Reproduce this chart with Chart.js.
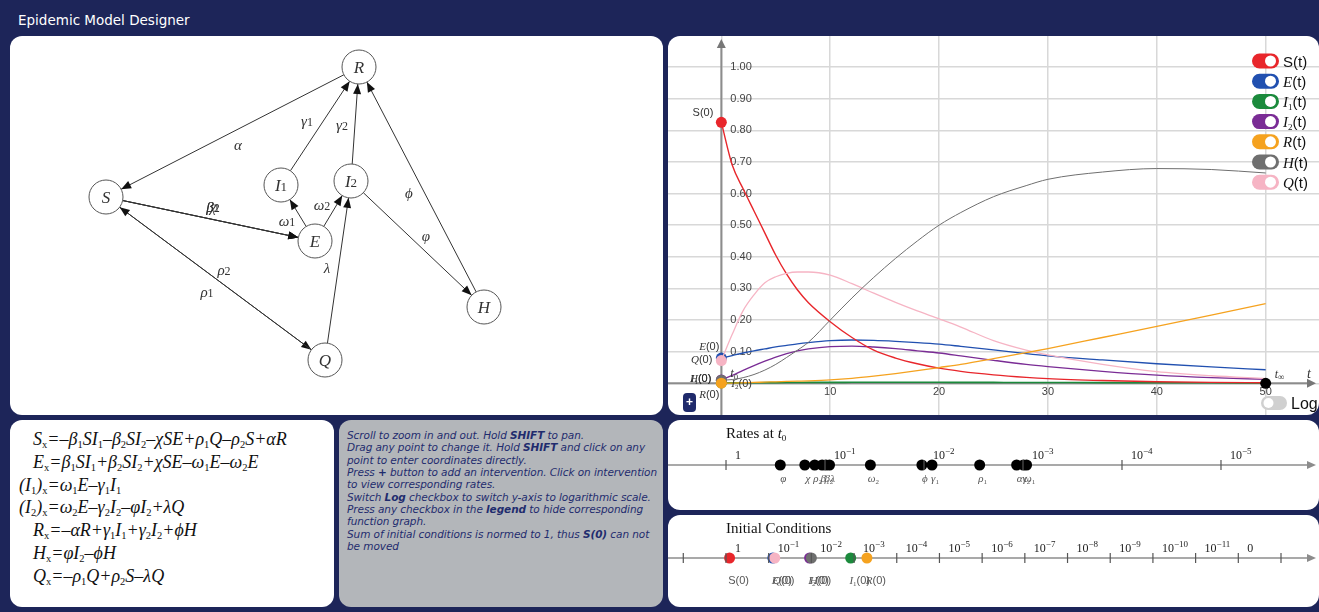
<!DOCTYPE html>
<html>
<head>
<meta charset="utf-8">
<title>Epidemic Model Designer</title>
<script src="https://cdn.jsdelivr.net/npm/chart.js@4.4.1/dist/chart.umd.min.js"></script>
<style>
  html, body { margin: 0; padding: 0; }
  body {
    width: 1319px; height: 612px; position: relative; overflow: hidden;
    background: #1d2559; font-family: "DejaVu Sans", sans-serif;
  }
  .title { position: absolute; left: 18px; top: 12px; color: #fff; font-size: 13.5px; }
  .panel { position: absolute; background: #fff; border-radius: 12px; overflow: hidden; }
  .panel canvas { position: absolute; left: 0; top: 0; }
  #eqPanel { left: 10px; top: 420px; width: 324px; height: 187px; }
  #helpPanel { left: 339px; top: 420px; width: 324px; height: 187px; background: #b3b6ba; }
  .eq {
    position: absolute; left: 0; top: 8px;
    font-family: "Liberation Serif", "DejaVu Serif", serif; font-style: italic;
    font-size: 18px; line-height: 22.8px; color: #111; white-space: nowrap;
  }
  .eq div { margin-left: 23px; height: 22.8px; }
  .eq div.paren { margin-left: 9px; }
  .eq sub { font-size: 10.5px; vertical-align: -3px; line-height: 0; font-style: normal; }
  .help {
    position: absolute; left: 8px; top: 9px; white-space: nowrap;
    font-style: italic; font-size: 10.5px; line-height: 12.35px; color: #1f2c6e;
    letter-spacing: -0.07px;
  }
  .help b { font-weight: bold; }
</style>
</head>
<body>
<div class="title">Epidemic Model Designer</div>

<div class="panel" style="left:10px;top:36px;width:653px;height:379px;">
  <canvas id="graphCanvas" width="653" height="379"></canvas>
</div>
<div class="panel" style="left:668px;top:36px;width:651px;height:379px;">
  <canvas id="plotCanvas" width="651" height="379"></canvas>
</div>

<div class="panel" id="eqPanel">
  <div class="eq">
    <div>S<sub>x</sub>=–β<sub>1</sub>SI<sub>1</sub>–β<sub>2</sub>SI<sub>2</sub>–χSE+ρ<sub>1</sub>Q–ρ<sub>2</sub>S+αR</div>
    <div>E<sub>x</sub>=β<sub>1</sub>SI<sub>1</sub>+β<sub>2</sub>SI<sub>2</sub>+χSE–ω<sub>1</sub>E–ω<sub>2</sub>E</div>
    <div class="paren">(I<sub>1</sub>)<sub>x</sub>=ω<sub>1</sub>E–γ<sub>1</sub>I<sub>1</sub></div>
    <div class="paren">(I<sub>2</sub>)<sub>x</sub>=ω<sub>2</sub>E–γ<sub>2</sub>I<sub>2</sub>–φI<sub>2</sub>+λQ</div>
    <div>R<sub>x</sub>=–αR+γ<sub>1</sub>I<sub>1</sub>+γ<sub>2</sub>I<sub>2</sub>+ϕH</div>
    <div>H<sub>x</sub>=φI<sub>2</sub>–ϕH</div>
    <div>Q<sub>x</sub>=–ρ<sub>1</sub>Q+ρ<sub>2</sub>S–λQ</div>
  </div>
</div>

<div class="panel" id="helpPanel">
  <div class="help">Scroll to zoom in and out. Hold <b>SHIFT</b> to pan.<br>Drag any point to change it. Hold <b>SHIFT</b> and click on any<br>point to enter coordinates directly.<br>Press <b>+</b> button to add an intervention. Click on intervention<br>to view corresponding rates.<br>Switch <b>Log</b> checkbox to switch y-axis to logarithmic scale.<br>Press any checkbox in the <b>legend</b> to hide corresponding<br>function graph.<br>Sum of initial conditions is normed to 1, thus <b>S(0)</b> can not<br>be moved</div>
</div>

<div class="panel" style="left:668px;top:420px;width:651px;height:90px;">
  <canvas id="ratesCanvas" width="651" height="90"></canvas>
</div>
<div class="panel" style="left:668px;top:515px;width:651px;height:92px;">
  <canvas id="icCanvas" width="651" height="92"></canvas>
</div>

<script>
// ---------- compartment trajectories ----------
const tValues = [0, 1, 2, 3, 4, 5, 6, 7, 8, 10, 12, 14, 16, 18, 20, 22, 25, 28, 30, 35, 40, 45, 50];
const sValues = [0.825, 0.69, 0.615, 0.545, 0.475, 0.405, 0.345, 0.295, 0.255, 0.195, 0.145, 0.105, 0.08, 0.062, 0.048, 0.038, 0.027, 0.019, 0.015, 0.009, 0.005, 0.003, 0.002];
const eValues = [0.08, 0.088, 0.096, 0.103, 0.109, 0.115, 0.12, 0.125, 0.129, 0.135, 0.137, 0.136, 0.133, 0.129, 0.124, 0.117, 0.106, 0.094, 0.087, 0.074, 0.062, 0.052, 0.043];
const i1Values = [0.0012, 0.0015, 0.0018, 0.002, 0.0022, 0.0024, 0.0026, 0.0028, 0.003, 0.0032, 0.0033, 0.0034, 0.0034, 0.0034, 0.0033, 0.0032, 0.003, 0.0028, 0.0027, 0.0024, 0.0021, 0.0018, 0.0016];
const i2Values = [0.011, 0.025, 0.041, 0.056, 0.07, 0.083, 0.094, 0.103, 0.109, 0.116, 0.118, 0.115, 0.11, 0.103, 0.096, 0.087, 0.073, 0.06, 0.053, 0.038, 0.026, 0.018, 0.013];
const rValues = [0.0005, 0.001, 0.002, 0.003, 0.004, 0.005, 0.006, 0.007, 0.008, 0.011, 0.016, 0.023, 0.031, 0.04, 0.05, 0.06, 0.078, 0.097, 0.11, 0.145, 0.18, 0.216, 0.252];
const hValues = [0.010, 0.012, 0.018, 0.028, 0.042, 0.06, 0.082, 0.105, 0.13, 0.20, 0.27, 0.335, 0.395, 0.45, 0.50, 0.54, 0.59, 0.625, 0.645, 0.668, 0.679, 0.676, 0.665];
const qValues = [0.072, 0.155, 0.23, 0.28, 0.318, 0.337, 0.348, 0.352, 0.352, 0.342, 0.315, 0.285, 0.256, 0.229, 0.204, 0.178, 0.135, 0.105, 0.09, 0.06, 0.037, 0.024, 0.015];
const tEnd = 50;

const seriesKeys = ['S', 'E', 'I1', 'I2', 'R', 'H', 'Q'];
const seriesColors = ['#e8262b', '#2150b0', '#1b8a3c', '#7a2c95', '#f5a21f', '#6f6f6f', '#f6b4c4'];
const seriesWidths = [1.4, 1.3, 1.6, 1.3, 1.3, 1.0, 1.3];
// lower value is painted later, so the starting dots stack as shown
const seriesOrder = [0, 0, 0, 0, -3, -2, -1];
const seriesValues = [sValues, eValues, i1Values, i2Values, rValues, hValues, qValues];

const xGrid = [0, 10, 20, 30, 40, 50];
const xTickLabels = ['10', '20', '30', '40', '50'];
const yGrid = [0, 0.1, 0.2, 0.3, 0.4, 0.5, 0.6, 0.7, 0.8, 0.9, 1.0];
const yTickLabels = ['0.10', '0.20', '0.30', '0.40', '0.50', '0.60', '0.70', '0.80', '0.90', '1.00'];

// ---------- model graph ----------
const nodeNames = ['R', 'S', 'I1', 'I2', 'E', 'H', 'Q'];
const nodeX = [349, 96, 271, 341, 305, 474, 315];
const nodeY = [31, 161, 149, 145, 205, 271, 324];
const edgeFrom = ['R', 'I1', 'I2', 'H', 'S', 'S', 'S', 'E', 'E', 'I2', 'S', 'Q', 'Q'];
const edgeTo = ['S', 'R', 'R', 'R', 'E', 'E', 'E', 'I1', 'I2', 'H', 'Q', 'S', 'I2'];
const edgeLabel = ['α', 'γ1', 'γ2', 'ϕ', 'β1', 'β2', 'χ', 'ω1', 'ω2', 'φ', 'ρ2', 'ρ1', 'λ'];
const edgeLabelDx = [5.5, -13, -13, -12.5, 2.5, 2.5, 2.5, -11, -11, 8.5, 8.5, -8.5, -11];
const edgeLabelDy = [13, -5, 1, 6, -12, -12, -12, 8, -6, -8, -8.5, 13.5, -2.5];

// ---------- rates at t0 ----------
const rateNames = ['φ', 'χ', 'ρ2', 'β1', 'β2', 'λ', 'ω2', 'ϕ', 'γ1', 'ρ1', 'α', 'γ2', 'ω1'];
const rateValues = [0.283, 0.160, 0.127, 0.107, 0.098, 0.090, 0.0348, 0.0105, 0.0083, 0.00274, 0.00116, 0.00099, 0.00092];
const rateTickExp = [0, -1, -2, -3, -4, -5];

// ---------- initial conditions ----------
const icNames = ['S', 'E', 'Q', 'I2', 'H', 'I1', 'R'];
const icValues = [0.825, 0.08, 0.072, 0.011, 0.010, 0.0012, 0.0005];
const icColors = ['#e8262b', '#2150b0', '#f6b4c4', '#7a2c95', '#6f6f6f', '#1b8a3c', '#f5a21f'];
const icTickExp = [1, 0, -1, -2, -3, -4, -5, -6, -7, -8, -9, -10, -11, -12, -13];
const icZeroExp = -12;

// ---------- text helpers ----------
const SERIF = '"Liberation Serif","DejaVu Serif",serif';
const SANS = '"Liberation Sans",Arial,sans-serif';

// symbol such as "I1" -> italic letter with small upright index
function symParts(name, size, subDrop) {
  const parts = [{ t: name[0], f: 'italic ' + size + 'px ' + SERIF }];
  if (name.length > 1) parts.push({ t: name.slice(1), f: Math.round(size * 0.62) + 'px ' + SERIF, dy: subDrop === undefined ? size * 0.22 : subDrop });
  return parts;
}
function partsWidth(ctx, parts) {
  let w = 0;
  parts.forEach(p => { ctx.font = p.f; w += ctx.measureText(p.t).width; });
  return w;
}
function drawParts(ctx, parts, x, y, align) {
  const w = partsWidth(ctx, parts);
  let cx = align === 'right' ? x - w : align === 'center' ? x - w / 2 : x;
  ctx.textBaseline = 'alphabetic';
  ctx.textAlign = 'left';
  parts.forEach(p => { ctx.font = p.f; ctx.fillText(p.t, cx, y + (p.dy || 0)); cx += ctx.measureText(p.t).width; });
}
function powerParts(exp, size) {
  if (exp === 0) return [{ t: '1', f: size + 'px ' + SERIF }];
  return [{ t: '10', f: size + 'px ' + SERIF }, { t: '−' + (-exp), f: Math.round(size * 0.72) + 'px ' + SERIF, dy: -size * 0.4 }];
}
function arrowHead(ctx, x, y, ang, len, half) {
  ctx.beginPath();
  ctx.moveTo(x, y);
  ctx.lineTo(x - len * Math.cos(ang) + half * Math.sin(ang), y - len * Math.sin(ang) - half * Math.cos(ang));
  ctx.lineTo(x - len * Math.cos(ang) - half * Math.sin(ang), y - len * Math.sin(ang) + half * Math.cos(ang));
  ctx.closePath();
  ctx.fill();
}
function roundRect(ctx, x, y, w, h, r) {
  ctx.beginPath();
  ctx.moveTo(x + r, y);
  ctx.arcTo(x + w, y, x + w, y + h, r);
  ctx.arcTo(x + w, y + h, x, y + h, r);
  ctx.arcTo(x, y + h, x, y, r);
  ctx.arcTo(x, y, x + w, y, r);
  ctx.closePath();
}

const baseOptions = {
  responsive: false, animation: false, devicePixelRatio: 1, events: [],
  layout: { padding: 0, autoPadding: false },
  plugins: { legend: { display: false }, tooltip: { enabled: false } }
};

// ================= model graph =================
const graphPlugin = {
  id: 'modelGraph',
  beforeDatasetsDraw(chart) {
    const { ctx, scales: { x, y } } = chart;
    const pos = n => { const i = nodeNames.indexOf(n); return [x.getPixelForValue(nodeX[i]), y.getPixelForValue(nodeY[i])]; };
    const r = 17;
    ctx.save();
    ctx.strokeStyle = '#333';
    ctx.fillStyle = '#111';
    ctx.lineWidth = 1;
    edgeFrom.forEach((f, k) => {
      const [x1, y1] = pos(f), [x2, y2] = pos(edgeTo[k]);
      const ang = Math.atan2(y2 - y1, x2 - x1);
      const sx = x1 + r * Math.cos(ang), sy = y1 + r * Math.sin(ang);
      const ex = x2 - r * Math.cos(ang), ey = y2 - r * Math.sin(ang);
      ctx.beginPath(); ctx.moveTo(sx, sy); ctx.lineTo(ex, ey); ctx.stroke();
      arrowHead(ctx, ex, ey, ang, 10, 4);
    });
    ctx.restore();
  },
  afterDatasetsDraw(chart) {
    const { ctx, scales: { x, y } } = chart;
    const pos = n => { const i = nodeNames.indexOf(n); return [x.getPixelForValue(nodeX[i]), y.getPixelForValue(nodeY[i])]; };
    ctx.save();
    ctx.fillStyle = '#333';
    nodeNames.forEach(n => {
      const [px, py] = pos(n);
      const parts = [{ t: n[0], f: 'italic 17px ' + SERIF }];
      if (n.length > 1) parts.push({ t: n.slice(1), f: '13px ' + SERIF, dy: 0 });
      drawParts(ctx, parts, px, py + 6, 'center');
    });
    edgeLabel.forEach((lab, k) => {
      const [x1, y1] = pos(edgeFrom[k]), [x2, y2] = pos(edgeTo[k]);
      const mx = (x1 + x2) / 2 + edgeLabelDx[k], my = (y1 + y2) / 2 + edgeLabelDy[k];
      const parts = [{ t: lab[0], f: 'italic 15px ' + SERIF }];
      if (lab.length > 1) parts.push({ t: lab.slice(1), f: '12px ' + SERIF, dy: 0 });
      drawParts(ctx, parts, mx, my + 5, 'center');
    });
    ctx.restore();
  }
};

new Chart(document.getElementById('graphCanvas'), {
  type: 'scatter',
  data: {
    datasets: [{
      data: nodeNames.map((n, i) => ({ x: nodeX[i], y: nodeY[i] })),
      pointRadius: 17, pointHoverRadius: 17,
      pointBackgroundColor: '#fff', pointBorderColor: '#555', pointBorderWidth: 1
    }]
  },
  options: Object.assign({}, baseOptions, {
    scales: {
      x: { type: 'linear', display: false, min: 0, max: 653 },
      y: { type: 'linear', display: false, min: 0, max: 379, reverse: true }
    }
  }),
  plugins: [graphPlugin]
});

// ================= trajectories =================
const legendParts = [
  [{ t: 'S(t)', f: '15px ' + SANS }],
  symParts('E', 15).concat([{ t: '(t)', f: '15px ' + SANS }]),
  symParts('I1', 15).concat([{ t: '(t)', f: '15px ' + SANS }]),
  symParts('I2', 15).concat([{ t: '(t)', f: '15px ' + SANS }]),
  symParts('R', 15).concat([{ t: '(t)', f: '15px ' + SANS }]),
  symParts('H', 15).concat([{ t: '(t)', f: '15px ' + SANS }]),
  symParts('Q', 15).concat([{ t: '(t)', f: '15px ' + SANS }])
];

function initLabel(key) {
  if (key === 'S') return [{ t: 'S(0)', f: '11px ' + SANS }];
  return symParts(key, 11, 2).concat([{ t: '(0)', f: '11px ' + SANS }]);
}

const plotPlugin = {
  id: 'plotDecor',
  beforeDatasetsDraw(chart) {
    const { ctx, scales: { x, y }, width, height } = chart;
    const x0 = x.getPixelForValue(0), y0 = y.getPixelForValue(0);
    ctx.save();
    ctx.strokeStyle = '#8c8c8c'; ctx.fillStyle = '#777'; ctx.lineWidth = 2;
    ctx.beginPath(); ctx.moveTo(x0, height); ctx.lineTo(x0, 10); ctx.stroke();
    arrowHead(ctx, x0, 3, -Math.PI / 2, 9, 4.5);
    ctx.beginPath(); ctx.moveTo(0, y0); ctx.lineTo(width - 10, y0); ctx.stroke();
    arrowHead(ctx, width - 3, y0, 0, 9, 4.5);

    ctx.fillStyle = '#444';
    ctx.font = '11px ' + SANS;
    ctx.textBaseline = 'middle';
    ctx.textAlign = 'left';
    yGrid.slice(1).forEach((v, i) => ctx.fillText(yTickLabels[i], x0 + 9, y.getPixelForValue(v)));
    ctx.textAlign = 'center';
    xGrid.slice(1).forEach((v, i) => ctx.fillText(xTickLabels[i], x.getPixelForValue(v), y0 + 9));
    ctx.restore();
  },
  afterDatasetsDraw(chart) {
    const { ctx, scales: { x, y }, width } = chart;
    const x0 = x.getPixelForValue(0), y0 = y.getPixelForValue(0);
    ctx.save();
    ctx.fillStyle = '#333';
    // names of the starting points
    const yS = y.getPixelForValue(sValues[0]);
    drawParts(ctx, initLabel('S'), x0 - 8, yS - 6, 'right');
    drawParts(ctx, initLabel('E'), x0 - 2, y.getPixelForValue(eValues[0]) - 8, 'right');
    drawParts(ctx, initLabel('Q'), x0 - 9, y.getPixelForValue(qValues[0]) + 2, 'right');
    drawParts(ctx, initLabel('H'), x0 - 10, y.getPixelForValue(hValues[0]) + 2, 'right');
    drawParts(ctx, initLabel('I1'), x0 - 10, y.getPixelForValue(hValues[0]) + 2, 'right');
    drawParts(ctx, initLabel('R'), x0 - 2, y.getPixelForValue(rValues[0]) + 15, 'right');
    drawParts(ctx, initLabel('I2'), x0 + 10, y.getPixelForValue(i2Values[0]) + 7, 'left');
    drawParts(ctx, symParts('t0', 13, 3), x0 + 9, y0 - 6, 'left');
    // end of horizon
    const xe = x.getPixelForValue(tEnd);
    drawParts(ctx, [{ t: 't', f: 'italic 12px ' + SERIF }, { t: '∞', f: '9px ' + SERIF, dy: 2 }], xe + 9, y0 - 5, 'left');
    drawParts(ctx, [{ t: 't', f: 'italic 14px ' + SERIF }], width - 12, y0 - 5, 'left');

    // toggles legend
    seriesKeys.forEach((k, i) => {
      const cy = 25 + i * 20.2;
      ctx.fillStyle = seriesColors[i];
      roundRect(ctx, 584, cy - 7.5, 27, 15, 7.5); ctx.fill();
      ctx.fillStyle = '#fff';
      ctx.beginPath(); ctx.arc(602.5, cy, 5.5, 0, Math.PI * 2); ctx.fill();
      ctx.fillStyle = '#111';
      drawParts(ctx, legendParts[i], 615, cy + 5.5, 'left');
    });

    // log switch
    ctx.fillStyle = '#d0d0d0';
    roundRect(ctx, 593, 360, 26, 14, 7); ctx.fill();
    ctx.fillStyle = '#fff';
    ctx.beginPath(); ctx.arc(600.5, 367, 5, 0, Math.PI * 2); ctx.fill();
    ctx.fillStyle = '#111';
    ctx.font = '16px ' + SANS; ctx.textAlign = 'left'; ctx.textBaseline = 'alphabetic';
    ctx.fillText('Log', 623, 373);

    // add-intervention button
    ctx.fillStyle = '#1f2a6b';
    roundRect(ctx, 15, 357, 13, 19, 4); ctx.fill();
    ctx.fillStyle = '#fff';
    ctx.font = 'bold 12px ' + SANS; ctx.textAlign = 'center'; ctx.textBaseline = 'middle';
    ctx.fillText('+', 21.5, 367);
    ctx.restore();
  }
};

const plotDatasets = seriesKeys.map((k, i) => ({
  label: k,
  order: seriesOrder[i],
  data: tValues.map((t, j) => ({ x: t, y: seriesValues[i][j] })),
  showLine: true,
  borderColor: seriesColors[i],
  backgroundColor: seriesColors[i],
  borderWidth: seriesWidths[i],
  cubicInterpolationMode: 'monotone',
  pointRadius: c => (c.dataIndex === 0 ? 5.5 : 0),
  pointHoverRadius: 0,
  pointBorderWidth: 0,
  clip: false
}));
plotDatasets.unshift({
  label: 'tEnd',
  order: -5,
  data: [{ x: tEnd, y: 0 }],
  pointRadius: 5.5, pointBackgroundColor: '#000', pointBorderWidth: 0
});

new Chart(document.getElementById('plotCanvas'), {
  type: 'scatter',
  data: { datasets: plotDatasets },
  options: Object.assign({}, baseOptions, {
    scales: {
      x: {
        type: 'linear', min: -4.9, max: 54.9,
        afterBuildTicks: s => { s.ticks = xGrid.map(v => ({ value: v })); },
        ticks: { display: false }, border: { display: false },
        grid: { color: '#d8d8d8', lineWidth: 1.5, drawTicks: false }
      },
      y: {
        type: 'linear', min: -0.1, max: 1.098,
        afterBuildTicks: s => { s.ticks = yGrid.map(v => ({ value: v })); },
        ticks: { display: false }, border: { display: false },
        grid: { color: '#d8d8d8', lineWidth: 1.5, drawTicks: false }
      }
    }
  }),
  plugins: [plotPlugin]
});

// ================= number lines =================
function numberLinePlugin(opts) {
  return {
    id: opts.id,
    beforeDatasetsDraw(chart) {
      const { ctx, scales: { x, y }, width } = chart;
      const ay = y.getPixelForValue(0);
      ctx.save();
      ctx.fillStyle = '#111';
      drawParts(ctx, opts.title, 58, 18, 'left');
      ctx.strokeStyle = '#8c8c8c'; ctx.fillStyle = '#8c8c8c'; ctx.lineWidth = 1.5;
      ctx.beginPath(); ctx.moveTo(0, ay); ctx.lineTo(width - 8, ay); ctx.stroke();
      arrowHead(ctx, width - 3, ay, 0, 9, 4);
      ctx.restore();
    },
    afterDatasetsDraw(chart) {
      const { ctx, scales: { x, y } } = chart;
      const ay = y.getPixelForValue(0);
      ctx.save();
      ctx.strokeStyle = '#555'; ctx.lineWidth = 1.2;
      opts.ticks.forEach(e => {
        const px = x.getPixelForValue(Math.pow(10, e));
        ctx.beginPath(); ctx.moveTo(px, ay - 5); ctx.lineTo(px, ay + 5); ctx.stroke();
        const parts = opts.tickParts(e);
        if (parts) { ctx.fillStyle = '#222'; drawParts(ctx, parts, px + 9, ay - 6, 'left'); }
      });
      ctx.fillStyle = '#555';
      opts.names.forEach((n, i) => {
        const px = x.getPixelForValue(opts.values[i]);
        drawParts(ctx, opts.nameParts(n), px + opts.nameShift, ay + opts.nameDrop, 'center');
      });
      ctx.restore();
    }
  };
}

new Chart(document.getElementById('ratesCanvas'), {
  type: 'scatter',
  data: {
    datasets: [{
      data: rateValues.map(v => ({ x: v, y: 0 })),
      pointRadius: 5.5, pointHoverRadius: 5.5, pointBackgroundColor: '#000', pointBorderWidth: 0
    }]
  },
  options: Object.assign({}, baseOptions, {
    scales: {
      x: { type: 'logarithmic', reverse: true, display: false, min: Math.pow(10, -5.99), max: Math.pow(10, 0.586) },
      y: { type: 'linear', display: false, min: -1, max: 1 }
    }
  }),
  plugins: [numberLinePlugin({
    id: 'ratesLine',
    title: [{ t: 'Rates at ', f: '15px ' + SERIF }].concat(symParts('t0', 15, 3)),
    ticks: rateTickExp,
    tickParts: e => powerParts(e, 12),
    names: rateNames,
    values: rateValues,
    nameParts: n => symParts(n, 11, 2),
    nameShift: 3,
    nameDrop: 17
  })]
});

new Chart(document.getElementById('icCanvas'), {
  type: 'scatter',
  data: {
    datasets: icValues.map((v, i) => ({
      data: [{ x: v, y: 0 }],
      pointRadius: 5.5, pointHoverRadius: 5.5, pointBackgroundColor: icColors[i], pointBorderWidth: 0
    })).reverse()
  },
  options: Object.assign({}, baseOptions, {
    scales: {
      x: { type: 'logarithmic', reverse: true, display: false, min: Math.pow(10, -13.89), max: Math.pow(10, 1.358) },
      y: { type: 'linear', display: false, min: -1, max: 43 / 49 }
    }
  }),
  plugins: [numberLinePlugin({
    id: 'icLine',
    title: [{ t: 'Initial Conditions', f: '15px ' + SERIF }],
    ticks: icTickExp,
    tickParts: e => (e > 0 || e < icZeroExp ? null : e === icZeroExp ? [{ t: '0', f: '12px ' + SERIF }] : powerParts(e, 12)),
    names: icNames,
    values: icValues,
    nameParts: n => initLabel(n),
    nameShift: 9,
    nameDrop: 26
  })]
});
</script>
</body>
</html>
